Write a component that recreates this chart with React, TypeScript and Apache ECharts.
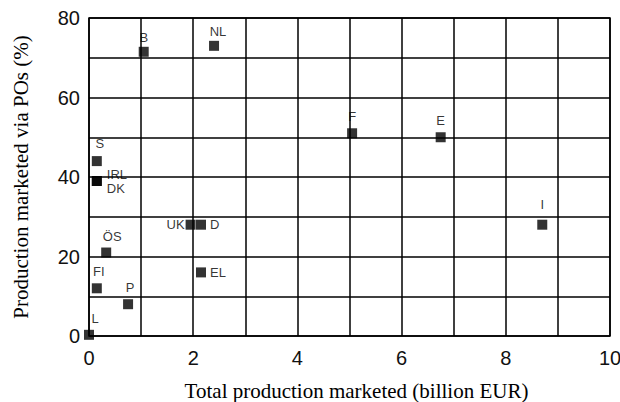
import React, { useEffect, useRef } from "react";
import * as echarts from "echarts";

const countries = ["B", "NL", "S", "IRL", "DK", "F", "E", "I", "UK", "D", "ÖS", "EL", "FI", "P", "L"];
const totalProduction = [1.05, 2.4, 0.15, 0.15, 0.15, 5.05, 6.75, 8.7, 1.95, 2.15, 0.33, 2.15, 0.15, 0.75, 0.0];
const shareViaPOs = [71.5, 73, 44, 39, 39, 51, 50, 28, 28, 28, 21, 16, 12, 8, 0.3];
const xTicks = [0, 2, 4, 6, 8, 10];
const yTicks = [0, 20, 40, 60, 80];

const labelPlacement: Record<string, any> = {
  B: { position: "top", distance: 3 },
  NL: { position: "top", distance: 3, offset: [4, 0] },
  S: { position: "top", distance: 6, offset: [3, 0] },
  IRL: { position: "right", distance: 5, offset: [0, -6] },
  DK: { position: "right", distance: 5, offset: [0, 8] },
  F: { position: "top", distance: 5 },
  E: { position: "top", distance: 5 },
  I: { position: "top", distance: 9 },
  UK: { position: "left", distance: 1 },
  D: { position: "right", distance: 4 },
  "ÖS": { position: "top", distance: 5, offset: [6, 0] },
  EL: { position: "right", distance: 4 },
  FI: { position: "top", distance: 5, offset: [2, 0] },
  P: { position: "top", distance: 5, offset: [2, 0] },
  L: { position: "top", distance: 5, offset: [6, 0] },
};

export default function App() {
  const ref = useRef<HTMLDivElement>(null);
  useEffect(() => {
    if (!ref.current) return;
    const chart = echarts.init(ref.current, null, { renderer: "svg" });
    const data = countries.map((name, i) => ({
      name,
      value: [totalProduction[i], shareViaPOs[i]],
      label: { show: true, ...labelPlacement[name] },
    }));
    chart.setOption({
      animation: false,
      backgroundColor: "#fff",
      grid: {
        left: 89,
        right: 10,
        top: 18,
        bottom: 66,
        containLabel: false,
        outerBoundsMode: "none",
        show: true,
        borderColor: "#000",
        borderWidth: 1.5,
      },
      xAxis: {
        type: "value",
        min: 0,
        max: 10,
        interval: 1,
        name: "Total production marketed (billion EUR)",
        nameLocation: "middle",
        nameGap: 44,
        nameTextStyle: {
          fontFamily: "Liberation Serif",
          fontSize: 21,
          color: "#000",
          padding: [0, 0, 0, 14],
        },
        axisLine: { show: false },
        axisTick: { show: false },
        axisLabel: {
          margin: 12,
          fontFamily: "Liberation Sans",
          fontSize: 20,
          color: "#111",
          formatter: (v: number) => (xTicks.includes(v) ? String(v) : ""),
        },
        splitLine: { show: true, lineStyle: { color: "#000", width: 1.5 } },
      },
      yAxis: {
        type: "value",
        min: 0,
        max: 80,
        interval: 10,
        name: "Production marketed via POs (%)",
        nameLocation: "middle",
        nameGap: 58,
        nameRotate: 90,
        nameTextStyle: {
          fontFamily: "Liberation Serif",
          fontSize: 21,
          color: "#000",
        },
        axisLine: { show: false },
        axisTick: { show: false },
        axisLabel: {
          margin: 9,
          fontFamily: "Liberation Sans",
          fontSize: 20,
          color: "#111",
          formatter: (v: number) => (yTicks.includes(v) ? String(v) : ""),
        },
        splitLine: { show: true, lineStyle: { color: "#000", width: 1.5 } },
      },
      series: [
        {
          type: "scatter",
          symbol: "rect",
          symbolSize: 10,
          itemStyle: { color: "#000" },
          label: {
            show: true,
            formatter: "{b}",
            fontFamily: "Liberation Sans",
            fontSize: 13,
            color: "#000",
          },
          data,
        },
      ],
    });
    return () => chart.dispose();
  }, []);
  return <div ref={ref} style={{ width: 620, height: 402, position: "absolute", left: 0, top: 0 }} />;
}
